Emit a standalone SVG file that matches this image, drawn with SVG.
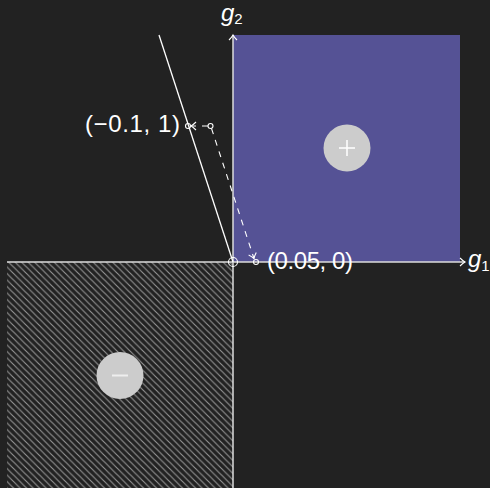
<svg xmlns="http://www.w3.org/2000/svg" width="490" height="488" viewBox="0 0 490 488">
<defs>
<style>
.lbl{font-family:"Liberation Sans",Arial,sans-serif;fill:#ffffff;font-size:24px}
.ax{stroke:#dcdcdc;stroke-width:1.5;fill:none}
.sol{stroke:#ffffff;stroke-width:1.3;fill:none}
.dsh{stroke:#ffffff;stroke-width:1.1;fill:none;stroke-dasharray:6 6}
.pt{stroke:#ffffff;stroke-width:1.1;fill:none}
.sgn{fill:#cccccc}
</style>
<pattern id="hatch" patternUnits="userSpaceOnUse" width="6.5" height="6.5">
<path d="M0,0 L6.5,6.5 M-1,5.5 L1,7.5 M5.5,-1 L7.5,1" stroke="#959595" stroke-width="1.1"/>
</pattern>
<marker id="arr" viewBox="-6 -5 8 10" markerWidth="8" markerHeight="10" refX="0" refY="0" orient="auto" markerUnits="userSpaceOnUse">
<path d="M-5,-4 Q-2,-1 0,0 Q-2,1 -5,4" stroke="#ffffff" stroke-width="1.1" fill="none"/>
</marker>
</defs>
<rect width="490" height="488" fill="#222222"/>
<g id="positive-region">
<rect x="233" y="35" width="227" height="227" fill="#555295"/>
</g>
<g id="negative-region">
<rect x="7" y="262" width="226" height="226" fill="url(#hatch)"/>
</g>
<g id="connectors">
<line class="ax" x1="7" y1="262" x2="465" y2="262" marker-end="url(#arr)"/>
<line class="ax" x1="233" y1="488" x2="233" y2="35" marker-end="url(#arr)"/>
<line class="sol" x1="159" y1="35" x2="233" y2="262"/>
<line class="dsh" x1="208" y1="126" x2="191" y2="126" marker-end="url(#arr)"/>
<line class="dsh" x1="211.5" y1="128.5" x2="254" y2="258.5" marker-end="url(#arr)"/>
</g>
<g id="origin">
<circle class="pt" cx="233" cy="262" r="4.5"/>
</g>
<g id="point-p">
<circle class="pt" cx="210.5" cy="126" r="2.5"/>
</g>
<g id="point-a">
<circle class="pt" cx="188" cy="126" r="2.5"/>
<text class="lbl" x="85" y="132" textLength="95" lengthAdjust="spacing">(−0.1, 1)</text>
</g>
<g id="point-b">
<circle class="pt" cx="256" cy="262" r="2.5"/>
<text class="lbl" x="267" y="269" textLength="86" lengthAdjust="spacing">(0.05, 0)</text>
</g>
<g id="g1-label">
<text class="lbl" x="468" y="267" font-style="italic">g<tspan font-style="normal" font-size="15" dy="4">1</tspan></text>
</g>
<g id="g2-label">
<text class="lbl" x="221" y="21" font-style="italic">g<tspan font-style="normal" font-size="15" dy="3">2</tspan></text>
</g>
<g id="plus-node">
<circle class="sgn" cx="347" cy="148" r="23.5"/>
<path d="M339,148 H355 M347,140 V156" stroke="#ffffff" stroke-width="1.5"/>
</g>
<g id="minus-node">
<circle class="sgn" cx="120" cy="375.5" r="23.5"/>
<path d="M112,375.5 H128" stroke="#eeeeee" stroke-width="2"/>
</g>
</svg>
